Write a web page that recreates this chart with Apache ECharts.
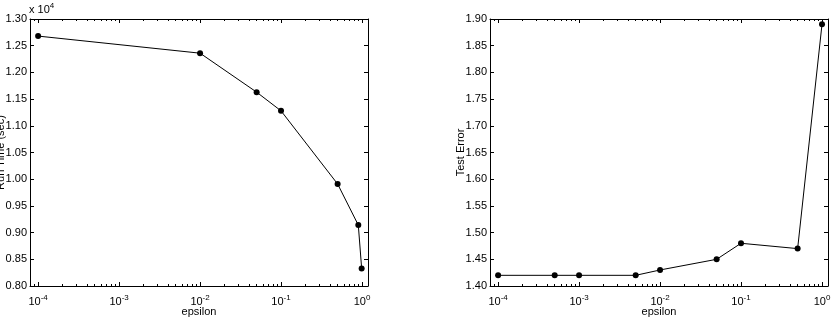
<!DOCTYPE html>
<html><head><meta charset="utf-8">
<script src="https://cdn.jsdelivr.net/npm/echarts@6/dist/echarts.min.js"></script>
<style>html,body{margin:0;padding:0;background:#fff}#c{width:832px;height:320px}</style>
</head><body><div id="c"></div>
<script>
const epsRun = [1e-4, 1e-2, 0.05, 0.1, 0.5, 0.9, 0.99];
const runTime = [1.268, 1.236, 1.163, 1.128, 0.991, 0.914, 0.833];
const epsErr = [1e-4, 5e-4, 1e-3, 5e-3, 1e-2, 5e-2, 0.1, 0.5, 1];
const testErr = [1.42, 1.42, 1.42, 1.42, 1.43, 1.45, 1.48, 1.47, 1.89];
const xMajor = [-4, -3, -2, -1, 0];
const yLimRun = [0.80, 1.30];
const yLimErr = [1.40, 1.90];
const xMin = -4.1, xMax = 0.074;

const FONT = "'Liberation Sans', Arial, Helvetica, sans-serif";
const xMinor = [];
for (let d = -5; d <= 0; d++) for (let k = 2; k <= 9; k++) {
  const v = Math.log10(k) + d;
  if (v > xMin && v < xMax) xMinor.push(v);
}
const black = '#000';
const grids = [
  {left: 30, top: 19, width: 338, height: 267, outerBoundsMode: 'none', containLabel: false},
  {left: 490, top: 19, width: 338, height: 267, outerBoundsMode: 'none', containLabel: false}
];
const rich = {
  b: {fontSize: 11, fontFamily: FONT, color: black},
  sup: {fontSize: 8, fontFamily: FONT, color: black, padding: [0, 0, 8, 0]}
};
function xAxes(g) {
  const base = {gridIndex: g, type: 'value', min: xMin, max: xMax, splitLine: {show: false}};
  return [
    Object.assign({}, base, {position: 'bottom',
      axisLine: {show: true, onZero: false, lineStyle: {color: black, width: 1}},
      axisTick: {show: true, inside: true, length: 4, customValues: xMajor, lineStyle: {color: black}},
      axisLabel: {show: true, customValues: xMajor, margin: 8,
        formatter: v => '{b|10}{sup|' + Math.round(v) + '}', rich: rich},
      name: 'epsilon', nameLocation: 'middle', nameGap: 20, nameMoveOverlap: false,
      nameTextStyle: {fontSize: 11, fontFamily: FONT, color: black}}),
    Object.assign({}, base, {position: 'top',
      axisLine: {show: true, onZero: false, lineStyle: {color: black, width: 1}},
      axisTick: {show: true, inside: true, length: 4, customValues: xMajor, lineStyle: {color: black}},
      axisLabel: {show: false}}),
    Object.assign({}, base, {position: 'bottom',
      axisLine: {show: false, onZero: false},
      axisTick: {show: true, inside: true, length: 2, customValues: xMinor, lineStyle: {color: black}},
      axisLabel: {show: false}}),
    Object.assign({}, base, {position: 'top',
      axisLine: {show: false, onZero: false},
      axisTick: {show: true, inside: true, length: 2, customValues: xMinor, lineStyle: {color: black}},
      axisLabel: {show: false}})
  ];
}
function yAxes(g, lim, name) {
  const base = {gridIndex: g, type: 'value', min: lim[0], max: lim[1], interval: 0.05, splitLine: {show: false}};
  return [
    Object.assign({}, base, {position: 'left',
      axisLine: {show: true, onZero: false, lineStyle: {color: black, width: 1}},
      axisTick: {show: true, inside: true, length: 4, lineStyle: {color: black}},
      axisLabel: {show: true, margin: 3, fontSize: 11, fontFamily: FONT, color: black,
        formatter: v => v.toFixed(2)},
      name: name, nameLocation: 'middle', nameGap: 24, nameMoveOverlap: false,
      nameTextStyle: {fontSize: 11, fontFamily: FONT, color: black}}),
    Object.assign({}, base, {position: 'right',
      axisLine: {show: true, onZero: false, lineStyle: {color: black, width: 1}},
      axisTick: {show: true, inside: true, length: 4, lineStyle: {color: black}},
      axisLabel: {show: false}})
  ];
}
function series(xs, ys, xi, yi) {
  return {type: 'line', xAxisIndex: xi, yAxisIndex: yi,
    data: xs.map((e, i) => [Math.log10(e), ys[i]]),
    symbol: 'circle', symbolSize: 6, showSymbol: true,
    itemStyle: {color: black}, lineStyle: {color: black, width: 1}, silent: true};
}
const chart = echarts.init(document.getElementById('c'), null, {renderer: 'canvas'});
chart.setOption({
  backgroundColor: '#fff',
  animation: false,
  title: {text: '{b|x 10}{sup|4}', left: 29, top: 2, padding: 0,
    textStyle: {rich: rich, fontSize: 11, fontWeight: 'normal'}},
  grid: grids,
  xAxis: xAxes(0).concat(xAxes(1)),
  yAxis: yAxes(0, yLimRun, 'Run Time (sec)').concat(yAxes(1, yLimErr, 'Test Error')),
  series: [series(epsRun, runTime, 0, 0), series(epsErr, testErr, 4, 2)]
});
</script></body></html>
